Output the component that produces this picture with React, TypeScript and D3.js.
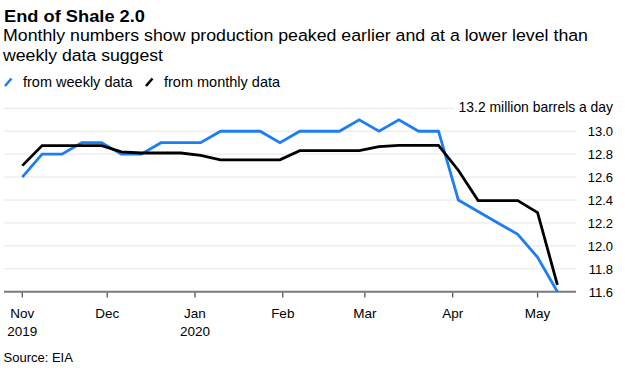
import React from "react";
import * as d3 from "d3";

const weekDates = [
  "2019-11-01", "2019-11-08", "2019-11-15", "2019-11-22", "2019-11-29",
  "2019-12-06", "2019-12-13", "2019-12-20", "2019-12-27",
  "2020-01-03", "2020-01-10", "2020-01-17", "2020-01-24", "2020-01-31",
  "2020-02-07", "2020-02-14", "2020-02-21", "2020-02-28",
  "2020-03-06", "2020-03-13", "2020-03-20", "2020-03-27",
  "2020-04-03", "2020-04-10", "2020-04-17", "2020-04-24",
  "2020-05-01", "2020-05-08",
];

const weeklySeries = [
  12.6, 12.8, 12.8, 12.9, 12.9, 12.8, 12.8, 12.9, 12.9, 12.9,
  13.0, 13.0, 13.0, 12.9, 13.0, 13.0, 13.0, 13.1, 13.0, 13.1,
  13.0, 13.0, 12.4, 12.3, 12.2, 12.1, 11.9, 11.6,
];

const monthlySeries = [
  12.70, 12.875, 12.875, 12.875, 12.875, 12.82, 12.81, 12.81, 12.81, 12.79,
  12.75, 12.75, 12.75, 12.75, 12.83, 12.83, 12.83, 12.83, 12.865, 12.877,
  12.877, 12.877, 12.66, 12.395, 12.395, 12.395, 12.29, 11.66,
];

const yTicks = [11.6, 11.8, 12.0, 12.2, 12.4, 12.6, 12.8, 13.0, 13.2];
const xTickDates = ["2019-11-01", "2019-12-01", "2020-01-01", "2020-02-01", "2020-03-01", "2020-04-01", "2020-05-01"];
const xTickLabels = [["Nov", "2019"], ["Dec"], ["Jan", "2020"], ["Feb"], ["Mar"], ["Apr"], ["May"]];

const title = "End of Shale 2.0";
const subtitle = ["Monthly numbers show production peaked earlier and at a lower level than", "weekly data suggest"];
const subtitleWidths = [585, 160];
const legendItems = [
  { label: "from weekly data", color: "#1d7ef4" },
  { label: "from monthly data", color: "#000000" },
];
const unitLabel = "13.2 million barrels a day";
const source = "Source: EIA";

const FONT = "'Liberation Sans', Arial, Helvetica, sans-serif";

export default function App() {
  const W = 625, H = 374;
  const parse = (s: string) => new Date(s + "T00:00:00Z");
  const x = d3.scaleUtc().domain([parse("2019-11-01"), parse("2020-05-08")]).range([22.3, 557.4]);
  const y = d3.scaleLinear().domain([11.6, 13.2]).range([291.7, 108.3]);
  const gridLeft = 4, gridRight = 576;

  const line = d3.line<number>()
    .x((_, i) => x(parse(weekDates[i])))
    .y((d) => y(d));

  const blue = legendItems[0].color;

  return (
    <svg width={W} height={H} style={{ position: "absolute", left: 0, top: 0, background: "#fff" }} fontFamily={FONT}>
      <rect width={W} height={H} fill="#fff" />
      <text x={4} y={21.7} fontSize={17.3} fontWeight="bold" fill="#000" textLength={141} lengthAdjust="spacingAndGlyphs">{title}</text>
      {subtitle.map((s, i) => (
        <text key={i} x={3} y={40.5 + i * 20} fontSize={17.4} fill="#000" textLength={subtitleWidths[i]} lengthAdjust="spacingAndGlyphs">{s}</text>
      ))}
      {/* legend */}
      <g>
        <line x1={5} y1={86} x2={11.5} y2={78.5} stroke={blue} strokeWidth={2.6} />
        <text x={23} y={87.3} fontSize={14.5} fill="#000">{legendItems[0].label}</text>
        <line x1={146} y1={86} x2={152.5} y2={78.5} stroke="#000" strokeWidth={2.6} />
        <text x={164} y={87.3} fontSize={14.5} fill="#000">{legendItems[1].label}</text>
      </g>
      {/* gridlines */}
      {yTicks.slice(1).map((t) => (
        <line key={t} x1={gridLeft} x2={t === 13.2 ? 454 : gridRight} y1={y(t)} y2={y(t)} stroke="#e6e6e6" strokeWidth={1} />
      ))}
      {/* y labels */}
      {yTicks.slice(0, -1).map((t) => (
        <text key={t} x={613} y={y(t) + 5} fontSize={13} textAnchor="end" fill="#000">{t.toFixed(1)}</text>
      ))}
      <text x={613} y={112.3} fontSize={13.9} textAnchor="end" fill="#000">{unitLabel}</text>
      {/* x axis */}
      <line x1={gridLeft} x2={gridRight} y1={y(11.6)} y2={y(11.6)} stroke="#7a7a7a" strokeWidth={2} />
      {xTickDates.map((d, i) => {
        const xp = x(parse(d));
        return (
          <g key={d}>
            <line x1={xp} x2={xp} y1={292.5} y2={297.5} stroke="#555" strokeWidth={1.3} />
            {xTickLabels[i].map((l, j) => (
              <text key={j} x={xp} y={318 + j * 18} fontSize={13.5} textAnchor="middle" fill="#000">{l}</text>
            ))}
          </g>
        );
      })}
      {/* lines */}
      <path d={line(weeklySeries) || ""} fill="none" stroke={blue} strokeWidth={2.8} strokeLinejoin="miter" />
      <path d={line(monthlySeries) || ""} fill="none" stroke="#000" strokeWidth={2.8} strokeLinejoin="miter" />
      <text x={3.5} y={362} fontSize={13} fill="#000">{source}</text>
    </svg>
  );
}
